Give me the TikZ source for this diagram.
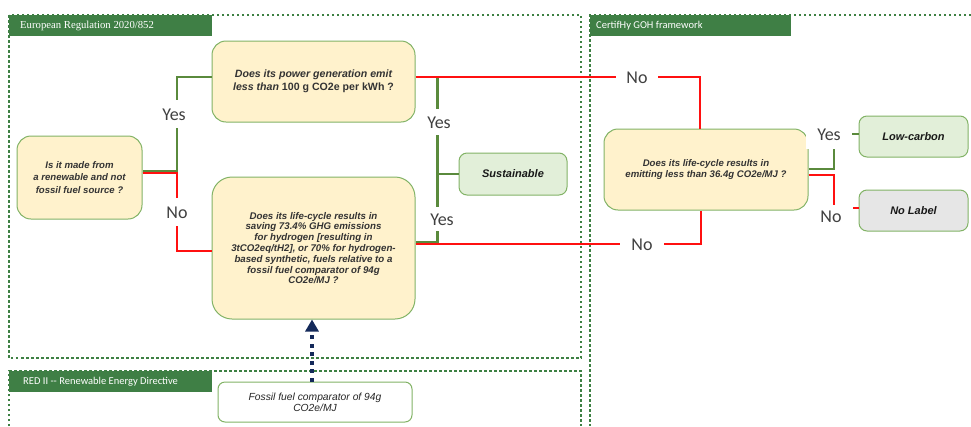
\documentclass[tikz,border=0pt]{standalone}
\usepackage{fontspec}
\setmainfont{Liberation Sans}
\newfontfamily\carl{Carlito}
\newfontfamily\tnr{Liberation Serif}
\usetikzlibrary{calc,arrows.meta}
\definecolor{titleg}{HTML}{3F7F45}
\definecolor{dotg}{HTML}{3D8043}
\definecolor{lineg}{HTML}{5A8A3C}
\definecolor{liner}{HTML}{FF1010}
\definecolor{boxb}{HTML}{82B366}
\definecolor{boxy}{HTML}{FFF2CC}
\definecolor{boxg}{HTML}{E2EFD9}
\definecolor{boxgr}{HTML}{E6E6E6}
\definecolor{txt}{HTML}{333333}
\definecolor{navy}{HTML}{14295A}
\tikzset{
  frame/.style={draw=dotg, line width=2.5pt, dash pattern=on 2.5pt off 2.5pt},
  titlebar/.style={fill=titleg},
  titletext/.style={text=white, anchor=west, inner sep=0pt},
  qbox/.style={draw=boxb, line width=1pt, fill=boxy, rounded corners=14pt, align=center, text=txt, inner sep=0pt},
  gbox/.style={draw=boxb, line width=1pt, fill=boxg, rounded corners=8pt, align=center, inner sep=0pt,
     font=\bfseries\itshape\fontsize{11}{13}\selectfont, text=black!90},
  gline/.style={draw=lineg, line width=2.2pt},
  rline/.style={draw=liner, line width=2.2pt},
  lab/.style={fill=white, text=black!75, font=\carl\fontsize{18}{18}\selectfont, text height=12, text depth=0, inner xsep=2, inner ysep=2},
}
\begin{document}
\begin{tikzpicture}[x=1pt,y=-1pt]
\useasboundingbox (0,0) rectangle (971,426);

% frames
\draw[frame] (9,15) rectangle (581,358);
\draw[frame] (971,15) -- (590,15) -- (590,426);
\draw[frame] (9,426) -- (9,371) -- (581,371) -- (581,426);

% title bars
\fill[titlebar] (9,15) rectangle (212,36);
\node[titletext, font=\tnr\fontsize{10.7}{12}\selectfont] (t1) at (20,25.5) {European Regulation 2020/852};
\fill[titlebar] (590,15) rectangle (791,36);
\node[titletext, font=\carl\fontsize{10.5}{12}\selectfont] (t2) at (596,25.5) {CertifHy GOH framework};
\fill[titlebar] (9,371) rectangle (212,392);
\node[titletext, font=\carl\fontsize{10.5}{12}\selectfont] (t3) at (23,381.5) {RED II -- Renewable Energy Directive};

% boxes
\node[qbox, minimum width=125, minimum height=83, font=\bfseries\itshape\fontsize{9.6}{12.3}\selectfont] (A) at (79.5,177.5)
  {Is it made from\\a renewable and not\\fossil fuel source ?};
\node[qbox, minimum width=203, minimum height=81, font=\bfseries\fontsize{10.6}{13}\selectfont] (B) at (313.5,81.5)
  {\itshape Does its power generation emit\\\itshape less than \upshape 100 g CO2e per kWh ?};
\node[qbox, rounded corners=20pt, minimum width=203, minimum height=142, font=\bfseries\itshape\fontsize{9.7}{10.8}\selectfont] (C) at (313.5,248)
  {Does its life-cycle results in\\saving 73.4\% GHG emissions\\for hydrogen [resulting in\\3tCO2eq/tH2], or 70\% for hydrogen-\\based synthetic, fuels relative to a\\fossil fuel comparator of 94g\\CO2e/MJ ?};
\node[qbox, minimum width=204, minimum height=81, font=\bfseries\itshape\fontsize{9.6}{11.7}\selectfont] (D) at (706,169.5)
  {Does its life-cycle results in\\emitting less than 36.4g CO2e/MJ ?};
\node[gbox, minimum width=108, minimum height=42] (S) at (513,174) {Sustainable};
\node[gbox, minimum width=109, minimum height=41] (L) at (913.5,136.5) {Low-carbon};
\node[gbox, fill=boxgr, minimum width=109, minimum height=41] (N) at (913.5,210.5) {No Label};
\node[qbox, fill=white, rounded corners=7pt, minimum width=194, minimum height=40, text=black!85, font=\itshape\fontsize{10.3}{11}\selectfont] (F) at (315,402)
  {Fossil fuel comparator of 94g\\CO2e/MJ};

% connectors
\draw[gline] ($(A.east)+(0,-6.5)$) -| (177,100) |- ($(B.west)+(0,-4.5)$);
\draw[rline] ($(A.east)+(0,-4.5)$) -| (177,230) |- ($(C.west)+(0,3)$);
\draw[gline] ($(C.east)+(0,-6)$) -| ($(B.east)+(22,-4.5)$);
\draw[gline] (S.west) -- (S.west -| 437,0);
\draw[rline] ($(B.east)+(0,-4.5)$) -| ($(D.north)+(-6,0)$);
\draw[rline] ($(C.east)+(0,-4)$) -| ($(D.south)+(-5,0)$);
\draw[gline] ($(D.east)+(0,-0.5)$) -| (834,134) -- (L.west |- 0,134);
\draw[rline] ($(D.east)+(0,5.5)$) -| (834,208) -- (N.west |- 0,208);
\draw[navy, line width=4pt, dash pattern=on 4pt off 4.5pt, -{Triangle[length=12pt,width=13pt]}] (F.north -| 312,0) -- (C.south -| 312,0);

% labels
\node[lab, inner ysep=8] (yA) at (174,114) {Yes};
\node[lab, inner ysep=8] (nA) at (177,212) {No};
\node[lab, inner ysep=7] (yB) at (439,122) {Yes};
\node[lab, inner ysep=6] (yC) at (442,219) {Yes};
\node[lab, inner xsep=10.5] (nB) at (637,77) {No};
\node[lab, inner xsep=11] (nC) at (642,244) {No};
\node[lab, inner xsep=11.5, inner ysep=9] (yD) at (829,134) {Yes};
\node[lab, inner xsep=11.5, inner ysep=5] (nD) at (831,216) {No};
\end{tikzpicture}
\end{document}
